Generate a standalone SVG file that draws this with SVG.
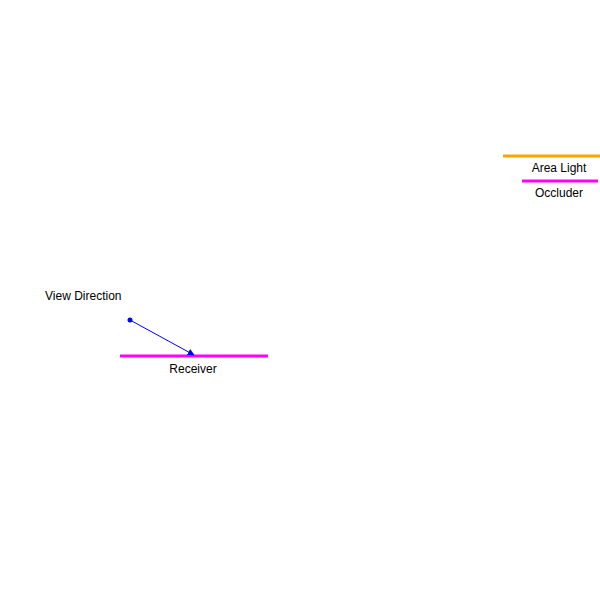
<svg xmlns="http://www.w3.org/2000/svg" width="600" height="600" viewBox="0 0 600 600">
<style>
text{font-family:"Liberation Sans",Arial,sans-serif;font-size:12px;fill:#000}
.m{stroke:#ff00ff;stroke-width:3}
</style>
<defs>
<marker id="ah" viewBox="0 0 10 10" refX="9" refY="5" markerWidth="7" markerHeight="7" markerUnits="userSpaceOnUse" orient="auto">
<path d="M0,0L10,5L0,10z" fill="#0000ff"/>
</marker>
</defs>
<rect width="600" height="600" fill="#fff"/>
<g id="area-light">
<line x1="503" y1="156" x2="600" y2="156" stroke="#ffa500" stroke-width="3"/>
<text x="559" y="172" text-anchor="middle">Area Light</text>
</g>
<g id="occluder">
<line class="m" x1="522" y1="181" x2="598" y2="181"/>
<text x="559" y="197" text-anchor="middle">Occluder</text>
</g>
<g id="receiver">
<line class="m" x1="120" y1="356" x2="268" y2="356"/>
<text x="193" y="373" text-anchor="middle">Receiver</text>
</g>
<g id="view">
<text x="45" y="300">View Direction</text>
<circle cx="130" cy="320" r="2.5" fill="#0000ff"/>
</g>
<g id="connectors">
<line x1="130" y1="320" x2="194" y2="355" stroke="#0000ff" stroke-width="1" marker-end="url(#ah)"/>
</g>
</svg>
